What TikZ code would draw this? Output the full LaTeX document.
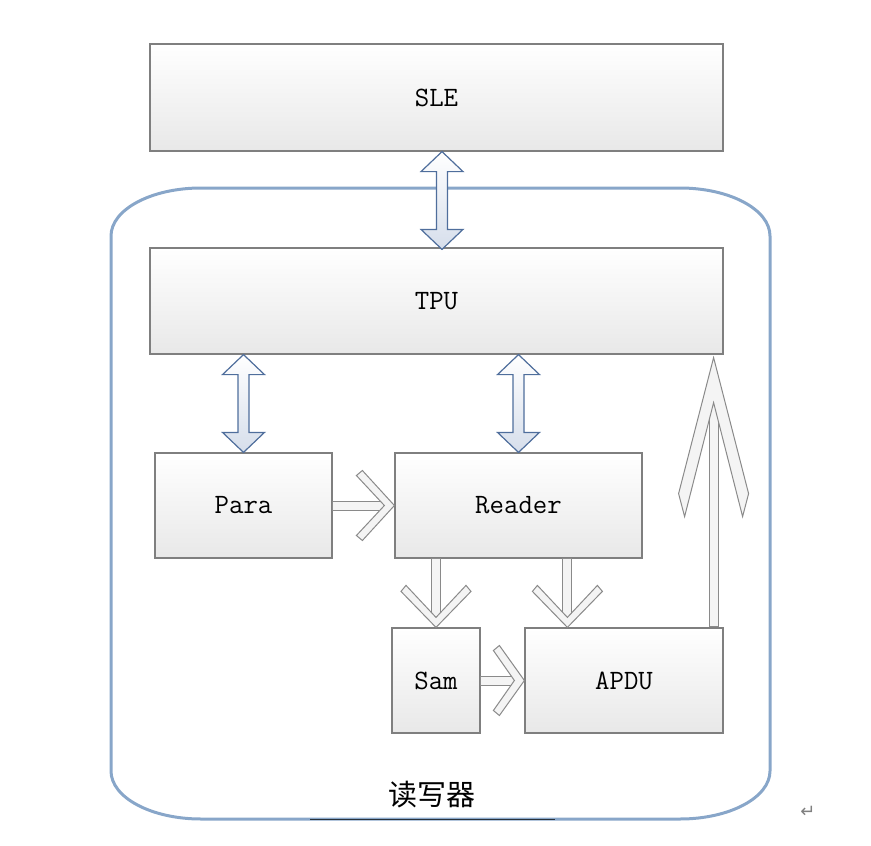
\documentclass[tikz,border=0pt]{standalone}
\usepackage{fontspec}
\newfontfamily\cjk{Noto Sans CJK SC}
\newfontfamily\symfont{DejaVu Sans}
\usepackage{tikz}
\usetikzlibrary{calc}

\definecolor{boxline}{HTML}{7F7F7F}
\definecolor{boxshade}{HTML}{E8E8E8}
\definecolor{dblline}{HTML}{4F6E9C}
\definecolor{dblshade}{HTML}{D6DEEB}
\definecolor{openline}{HTML}{8A8A8A}
\definecolor{openfill}{HTML}{F4F4F4}
\definecolor{frameline}{HTML}{88A6C9}

\newcommand{\dblarrow}[2]{\draw[dblarr] (#1) -- ++(21,20) -- ++(-15.5,0) -- ($(#2)+(5.5,-20)$) -- ++(15.5,0) -- (#2) -- ++(-21,-20) -- ++(15.5,0) -- ($(#1)+(-5.5,20)$) -- ++(-15.5,0) -- cycle;}

\begin{document}
\begin{tikzpicture}[x=1pt,y=-1pt,
	box/.style={draw=boxline,line width=1.2pt,top color=white,bottom color=boxshade,inner sep=0pt,font=\fontsize{28}{30}\selectfont\ttfamily},
	dblarr/.style={draw=dblline,line width=1.2pt,top color=white,bottom color=dblshade,line join=miter},
	openarr/.style={draw=openline,line width=1pt,fill=openfill,line join=miter},
	openhead/.pic={\draw[openarr] (0,0) -- (-#1,35) -- (-#1-6,30) -- (-10,0) -- (-#1-6,-30) -- (-#1,-35) -- cycle;},
	tallhead/.pic={\draw[openarr] (0,0) -- (-136,35) -- (-159,29) -- (-45,0) -- (-159,-29) -- (-136,-35) -- cycle;}]
		\useasboundingbox (0,0) rectangle (871,846);
		% frame of the reader
		\draw[frameline,line width=3pt] (111,236) arc[start angle=180,end angle=270,x radius=90,y radius=48] -- (680,188) arc[start angle=270,end angle=360,x radius=90,y radius=48] -- (770,771) arc[start angle=0,end angle=90,x radius=90,y radius=48] -- (201,819) arc[start angle=90,end angle=180,x radius=90,y radius=48] -- cycle;
		\draw[black!70!frameline,line width=1.5pt] (310,819.5) -- (555,819.5);
		\node (frame) at (432,795) {\cjk\fontsize{29}{32}\selectfont 读写器};
		\node (mark) at (808,812) [text=gray] {\symfont\fontsize{18}{20}\selectfont ↵};

		\node (SLE) at (436.5,97.5) [box,minimum width=573,minimum height=107] {SLE};
		\node (TPU) at (436.5,301) [box,minimum width=573,minimum height=106] {TPU};
		\node (Para) at (243.5,505.5) [box,minimum width=177,minimum height=105] {Para};
		\node (Reader) at (518.5,505.5) [box,minimum width=247,minimum height=105] {Reader};
		\node (Sam) at (436,680.5) [box,minimum width=88,minimum height=105] {Sam};
		\node (APDU) at (624,680.5) [box,minimum width=198,minimum height=105] {APDU};

		% double arrows
		\coordinate (sleb) at ($(SLE.south)+(5.5,0)$);
		\coordinate (tput) at ($(TPU.north)+(5.5,2)$);
		\dblarrow{sleb}{tput}
		\dblarrow{TPU.south -| Para.north}{Para.north}
		\dblarrow{TPU.south -| Reader.north}{Reader.north}

		% open arrows
		\draw[openarr] ($(Para.east)+(0,-4.5)$) rectangle ($(Reader.west)+(-10,4.5)$);
		\pic at (Reader.west) {openhead=32};
		\draw[openarr] ($(Reader.south -| Sam.north)+(-4.5,0)$) rectangle ($(Sam.north)+(4.5,-10)$);
		\pic[rotate=-90] at (Sam.north) {openhead=36};
		\coordinate (apdut) at ($(APDU.north west)+(43,0)$);
		\draw[openarr] ($(Reader.south -| apdut)+(-4.5,0)$) rectangle ($(apdut)+(4.5,-10)$);
		\pic[rotate=-90] at (apdut) {openhead=36};
		\draw[openarr] ($(Sam.east)+(0,-4.5)$) rectangle ($(APDU.west)+(-10,4.5)$);
		\pic at (APDU.west) {openhead=25};
		\coordinate (tput2) at ($(TPU.south east)+(-10,3)$);
		\draw[openarr] ($(APDU.north east)+(-14.5,-1)$) rectangle ($(tput2)+(4.5,45)$);
		\pic[rotate=90] at (tput2) {tallhead};
\end{tikzpicture}
\end{document}
